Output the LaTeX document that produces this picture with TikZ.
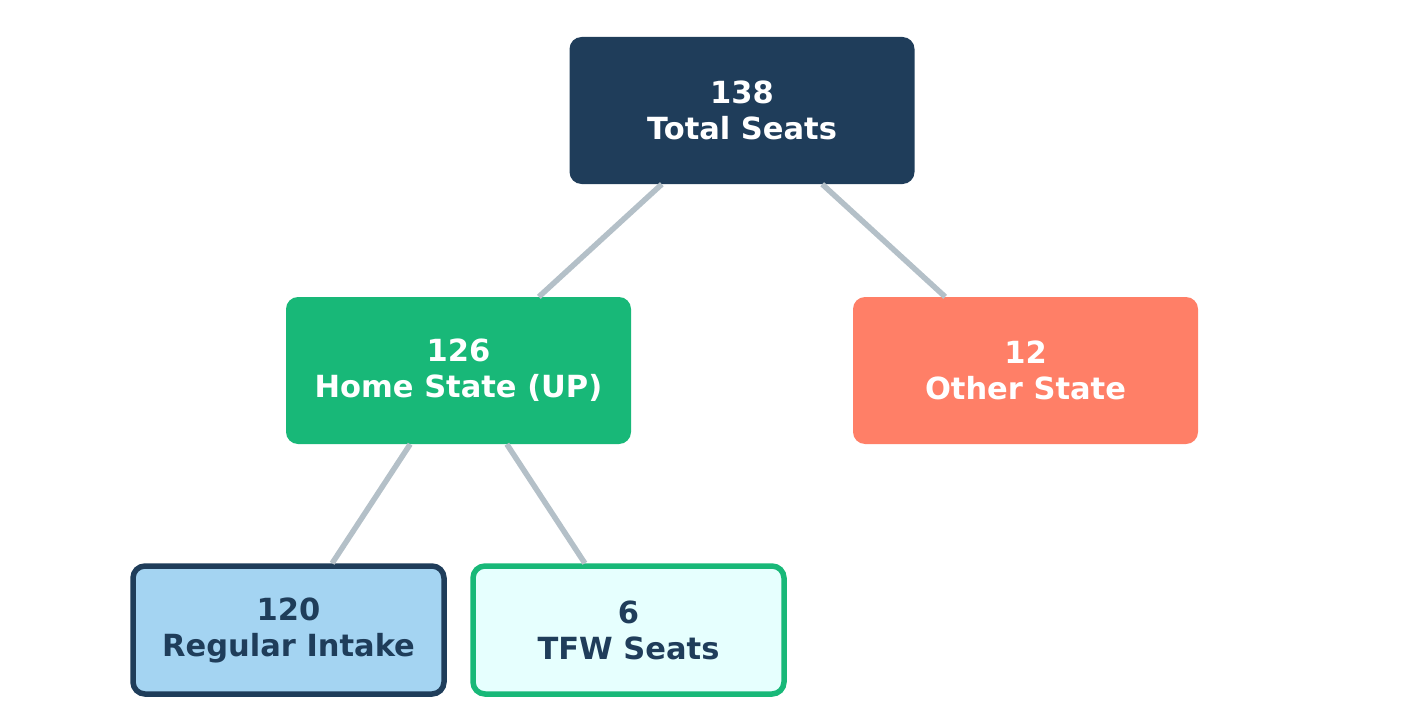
\documentclass[tikz,border=0pt]{standalone}
\usepackage{fontspec}
\setmainfont{DejaVu Sans}
\definecolor{navy}{HTML}{1F3D5A}
\definecolor{green}{HTML}{18B878}
\definecolor{coral}{HTML}{FF7F67}
\definecolor{lightblue}{HTML}{A4D4F2}
\definecolor{mint}{HTML}{E6FFFE}
\definecolor{conn}{HTML}{B4C0C8}
\begin{document}
\begin{tikzpicture}[x=1pt,y=-1pt,
  box/.style={rectangle,rounded corners=12pt,inner sep=0pt,align=center,
    font=\fontsize{30.5}{36}\selectfont\bfseries},
  solidbox/.style={box,minimum width=345pt,minimum height=147pt,text=white},
  leafbox/.style={box,minimum width=311pt,minimum height=128pt,line width=5.5pt,text=navy},
  link/.style={draw=conn,line width=5.5pt}]
\useasboundingbox (0,0) rectangle (1428,725);
\node[solidbox,fill=navy] (top) at (742,110.5) {138\\Total Seats};
\node[solidbox,fill=green] (home) at (458.5,370.5) {126\\Home State (UP)};
\node[solidbox,fill=coral] (other) at (1025.5,370.5) {12\\Other State};
\node[leafbox,fill=lightblue,draw=navy] (reg) at (288.5,630) {120\\Regular Intake};
\node[leafbox,fill=mint,draw=green] (tfw) at (628.5,630) {6\\TFW Seats};
\draw[link] (top) -- (home);
\draw[link] (top) -- (other);
\draw[link] (home) -- (reg);
\draw[link] (home) -- (tfw);
\end{tikzpicture}
\end{document}
